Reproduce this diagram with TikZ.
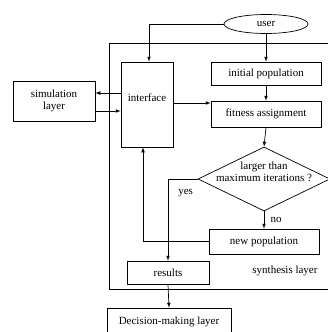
\documentclass[tikz,border=0pt]{standalone}
\usepackage{fontspec}
\setmainfont{Liberation Serif}
\usetikzlibrary{shapes.geometric}

\begin{document}
\begin{tikzpicture}[x=1pt,y=-1pt,line width=0.7pt,font=\fontsize{11}{12}\selectfont,
  box/.style={draw, rectangle, inner sep=0pt},
  arr/.style={-latex}]

\clip (0,0) rectangle (328,332);

% outer frame of the synthesis layer
\node[box, minimum width=228, minimum height=246] (synth) at (223,166) {};
\node (synthtext) at (285,271) {synthesis layer};

\node[draw, ellipse, minimum width=84, minimum height=19, inner sep=0pt] (user) at (266,24) {user};

\node[box, minimum width=52, minimum height=85, label={[yshift=7pt]center:interface}] (interface) at (147,104.5) {};
\node[box, minimum width=82, minimum height=40, align=center] (sim) at (54,101) {simulation\\layer};

\node[box, minimum width=110, minimum height=23] (init) at (266,73.5) {initial population};
\node[box, minimum width=110, minimum height=26] (fit) at (266,114) {fitness assignment};
\node[draw, diamond, minimum width=132, minimum height=64, inner sep=0pt, align=center,
  label={[yshift=7pt, align=center]center:larger than\\maximum iterations ?}] (check) at (264,179) {};
\node[box, minimum width=110, minimum height=25] (newpop) at (264,241.5) {new population};
\node[box, minimum width=82, minimum height=23] (results) at (168,272.5) {results};
\node[box, minimum width=124, minimum height=28] (decision) at (169,322) {Decision-making layer};

% connectors
\draw[arr] (user.west) -| ([xshift=2pt]interface.north);
\draw[arr] (user.south) -- (init.north);
\draw[arr] (init.south) -- (fit.north);
\draw[arr] (fit.south) -- (check.north);
\draw[arr] (check.south) -- node[right=3pt] {no} (newpop.north);
\draw[arr] (check.west) -| (results.north);
\node (yes) at ([xshift=-12pt,yshift=-14pt]check.west) {yes};
\draw[arr] (newpop.west) -| ([xshift=-4pt]interface.south);
\draw[arr] ([yshift=8pt]sim.east -| interface.west) -- ([yshift=8pt]sim.east);
\draw[arr] ([yshift=-10pt]sim.east) -- ([yshift=-10pt]sim.east -| interface.west);
\draw[arr] ([yshift=11pt]fit.west -| interface.east) -- ([yshift=11pt]fit.west);
\draw[arr] (results.south) -- (decision.north);

\end{tikzpicture}
\end{document}
